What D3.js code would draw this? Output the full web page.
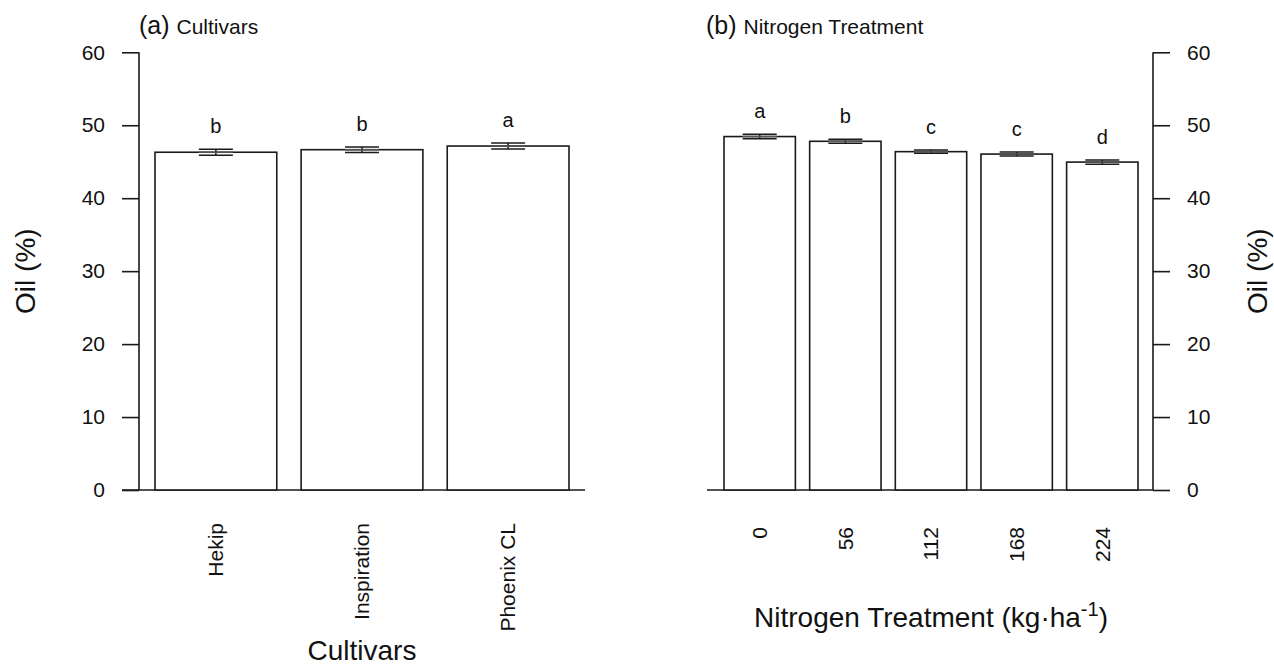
<!DOCTYPE html>
<html>
<head>
<meta charset="utf-8">
<script src="https://cdn.jsdelivr.net/npm/d3@7"></script>
<style>
  body { margin: 0; background: #fff; }
  svg { font-family: "Liberation Sans", Arial, sans-serif; }
</style>
</head>
<body>
<svg id="chart" width="1274" height="665"></svg>
<script>
// panel (a) cultivars
let cultivars = ['Hekip', 'Inspiration', 'Phoenix CL'];
let oilCult = [46.3, 46.65, 47.15];
let seCult = [0.41, 0.38, 0.41];
let lettersCult = ['b', 'b', 'a'];

// panel (b) nitrogen
let nRates = ['0', '56', '112', '168', '224'];
let oilN = [48.45, 47.8, 46.38, 46.05, 44.95];
let seN = [0.3, 0.27, 0.23, 0.27, 0.29];
let lettersN = ['a', 'b', 'c', 'c', 'd'];

let yTicks = [0, 10, 20, 30, 40, 50, 60];

let svg = d3.select('#chart');
let ink = '#1a1a1a';

let y = d3.scaleLinear()
  .domain([0, 60])
  .range([490, 52.3]);

function drawPanel(g, cats, vals, ses, letters, opts){
  let x = d3.scaleBand()
    .domain(cats)
    .range(opts.range)
    .paddingInner(0.1667)
    .paddingOuter(0);

  let data = cats.map((c, i) => ({cat: c, v: vals[i], se: ses[i], lab: letters[i]}));

  // baseline
  g.append('line')
    .attr('x1', opts.base[0]).attr('x2', opts.base[1])
    .attr('y1', y(0)).attr('y2', y(0))
    .style('stroke', ink).style('stroke-width', 1.6);

  // y axis
  let axis = opts.right ? d3.axisRight(y) : d3.axisLeft(y);
  let ax = g.append('g')
    .attr('transform', `translate(${opts.axisX},0)`)
    .call(axis.tickValues(yTicks).tickSize(17).tickPadding(17));
  ax.select('.domain').remove();
  ax.append('line')
    .attr('y1', y(0)).attr('y2', y(60))
    .style('stroke', ink).style('stroke-width', 1.6);
  ax.selectAll('.tick line').style('stroke', ink).style('stroke-width', 1.6);
  ax.selectAll('.tick text')
    .style('font-size', '21px')
    .style('font-family', '"Liberation Sans", Arial, sans-serif')
    .style('fill', '#111');

  // bars
  g.selectAll('rect.bar')
    .data(data)
    .enter()
    .append('rect')
    .attr('class', 'bar')
    .attr('x', d => x(d.cat))
    .attr('y', d => y(d.v))
    .attr('width', x.bandwidth())
    .attr('height', d => y(0) - y(d.v))
    .style('fill', '#fff')
    .style('stroke', ink)
    .style('stroke-width', 1.6);

  // error bars
  let eb = g.selectAll('g.err')
    .data(data)
    .enter()
    .append('g')
    .attr('class', 'err')
    .attr('transform', d => `translate(${x(d.cat) + x.bandwidth()/2},0)`);

  eb.append('line')
    .attr('y1', d => y(d.v - d.se)).attr('y2', d => y(d.v + d.se));
  eb.append('line')
    .attr('x1', -17).attr('x2', 17)
    .attr('y1', d => y(d.v + d.se)).attr('y2', d => y(d.v + d.se));
  eb.append('line')
    .attr('x1', -17).attr('x2', 17)
    .attr('y1', d => y(d.v - d.se)).attr('y2', d => y(d.v - d.se));
  eb.append('line')
    .attr('x1', -17).attr('x2', 17)
    .attr('y1', d => y(d.v)).attr('y2', d => y(d.v))
    .style('stroke', '#555');
  eb.selectAll('line')
    .style('stroke', function(){ return this.style.stroke || ink; })
    .style('stroke-width', 1.5);

  // letters
  g.selectAll('text.sig')
    .data(data)
    .enter()
    .append('text')
    .attr('class', 'sig')
    .attr('x', d => x(d.cat) + x.bandwidth()/2)
    .attr('y', d => y(d.v + d.se) - 16)
    .attr('text-anchor', 'middle')
    .style('font-size', '20px')
    .style('fill', '#111')
    .text(d => d.lab);

  // x tick labels
  g.selectAll('text.xlab')
    .data(data)
    .enter()
    .append('text')
    .attr('class', 'xlab')
    .attr('transform', d => `translate(${x(d.cat) + x.bandwidth()/2},${opts.labY}) rotate(-90)`)
    .attr('dy', '0.35em')
    .attr('text-anchor', 'end')
    .style('font-size', '21px')
    .style('fill', '#111')
    .text(d => d.cat);

  // y title
  g.append('text')
    .attr('transform', `translate(${opts.yTitleX},${y(30)}) rotate(-90)`)
    .attr('text-anchor', 'middle')
    .attr('dy', '0.35em')
    .style('font-size', '28px')
    .style('fill', '#111')
    .text('Oil (%)');

  // panel title
  let t = g.append('text')
    .attr('x', opts.titleX)
    .attr('y', 34)
    .style('fill', '#111');
  t.append('tspan').style('font-size', '25px').text(opts.tag + ' ');
  t.append('tspan').style('font-size', '21px').text(opts.title);

  return x;
}

let gA = svg.append('g');
drawPanel(gA, cultivars, oilCult, seCult, lettersCult, {
  range: [155, 569], base: [122, 585], axisX: 139, right: false,
  labY: 523, yTitleX: 25, titleX: 139, tag: '(a)', title: 'Cultivars'
});
gA.append('text')
  .attr('x', 362).attr('y', 660)
  .attr('text-anchor', 'middle')
  .style('font-size', '28px')
  .style('fill', '#111')
  .text('Cultivars');

let gB = svg.append('g');
drawPanel(gB, nRates, oilN, seN, lettersN, {
  range: [724, 1138], base: [707, 1153], axisX: 1153, right: true,
  labY: 527, yTitleX: 1257, titleX: 706, tag: '(b)', title: 'Nitrogen Treatment'
});
let xt = gB.append('text')
  .attr('x', 931).attr('y', 627)
  .attr('text-anchor', 'middle')
  .style('font-size', '28px')
  .style('fill', '#111');
xt.append('tspan').text('Nitrogen Treatment (kg\u00B7ha');
xt.append('tspan').attr('dy', -11).style('font-size', '20px').text('-1');
xt.append('tspan').attr('dy', 11).text(')');
</script>
</body>
</html>
